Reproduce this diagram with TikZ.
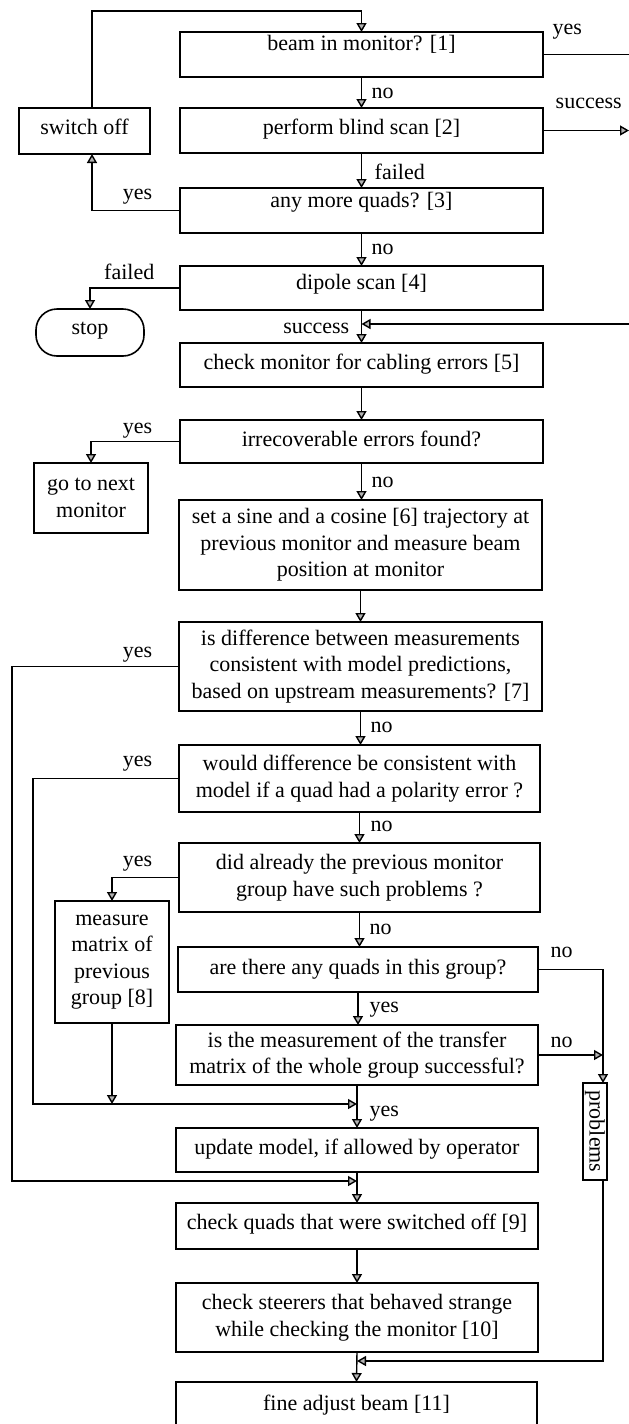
\documentclass[tikz,border=0pt]{standalone}
\usepackage{fontspec}
\setmainfont{Liberation Serif}
\usetikzlibrary{arrows.meta,calc}
\begin{document}
\begin{tikzpicture}[x=1pt,y=-1pt,
  font=\fontsize{22}{26.5}\selectfont,
  line width=1.4pt,
  box/.style={draw, line width=1.6pt, anchor=north, inner xsep=1pt, inner ysep=0pt, outer sep=0pt, align=center, minimum height=0pt},
  arr/.style={-{Triangle[length=9pt,width=10pt,fill=gray!60]}},
  lab/.style={inner sep=0pt}]
\useasboundingbox (0,0) rectangle (629,1424);
\clip (0,0) rectangle (629,1424);
% main boxes
\node[box, minimum width=363pt, text height=18pt, text depth=27pt] (B1) at (361.5,32) {beam in monitor? [1]};
\node[box, minimum width=363pt, text height=26pt, text depth=19pt] (B2) at (361.5,108) {perform blind scan [2]};
\node[box, minimum width=363pt, text height=19pt, text depth=26pt] (B3) at (361.5,188) {any more quads? [3]};
\node[box, minimum width=363pt, text height=23pt, text depth=21pt] (B4) at (361.5,266) {dipole scan [4]};
\node[box, minimum width=363pt, text height=26pt, text depth=18pt] (B5) at (361.5,343) {check monitor for cabling errors [5]};
\node[box, minimum width=363pt, text height=26pt, text depth=17pt] (B6) at (361.5,420) {irrecoverable errors found?};
\node[box, minimum width=363pt, minimum height=90pt] (B7) at (360.5,500) {set a sine and a cosine [6] trajectory at\\previous monitor and measure beam\\position at monitor};
\node[box, minimum width=363pt, minimum height=89pt] (B8) at (360.5,622) {is difference between measurements\\consistent with model predictions,\\based on upstream measurements? [7]};
\node[box, minimum width=361pt, minimum height=67pt] (B9) at (359.5,745) {would difference be consistent with\\model if a quad had a polarity error ?};
\node[box, minimum width=361pt, minimum height=69pt] (B10) at (359.5,843) {did already the previous monitor\\group have such problems ?};
\node[box, minimum width=360pt, text height=27pt, text depth=18pt] (B11) at (358,947) {are there any quads in this group?};
\node[box, minimum width=362pt, minimum height=60pt] (B12) at (357,1025) {is the measurement of the transfer\\matrix of the whole group successful?};
\node[box, minimum width=362pt, text height=26pt, text depth=18pt] (B13) at (357,1128) {update model, if allowed by operator};
\node[box, minimum width=362pt, text height=26pt, text depth=20pt] (B14) at (357,1203) {check quads that were switched off [9]};
\node[box, minimum width=362pt, minimum height=69pt] (B15) at (357,1283) {check steerers that behaved strange\\while checking the monitor [10]};
\node[box, minimum width=361pt, text height=28pt, text depth=40pt] (B16) at (356.5,1382) {fine adjust beam [11]};
% side boxes
\node[box, minimum width=131pt, text height=26pt, text depth=20pt] (SO) at (84.5,108) {switch off};
\node[box, minimum width=108pt, text height=25pt, text depth=22pt, rounded corners=21pt] (stop) at (90,309) {stop};
\node[box, minimum width=114pt, minimum height=70pt] (GN) at (91,463) {go to next\\monitor};
\node[box, minimum width=114pt, minimum height=122pt] (MM) at (112,901) {measure\\matrix of\\previous\\group [8]};
\node[draw, line width=1.6pt, rotate=-90, inner sep=0pt, outer sep=0pt, minimum width=97pt, minimum height=24pt] (problems) at (595,1131.5) {problems};
% helper coordinates
\coordinate (j0) at (361.5,324);
\coordinate (j1) at (357,1104);
\coordinate (j2) at (357,1181);
\coordinate (j3) at (357,1361);
\coordinate (xa) at (92,0);
\coordinate (xb) at (12,0);
\coordinate (xc) at (33,0);
\coordinate (px) at (603,0);
\coordinate (re) at (629,0);
\coordinate (tp) at (0,11);
% main vertical flow
\draw[arr] (B1.south) -- (B2.north);
\draw[arr] (B2.south) -- (B3.north);
\draw[arr] (B3.south) -- (B4.north);
\draw[arr] (B4.south) -- (B5.north);
\draw[arr] (B5.south) -- (B6.north);
\draw[arr] (B6.south) -- (B6.south |- B7.north);
\draw[arr] (B7.south) -- (B8.north);
\draw[arr] (B8.south) -- (B8.south |- B9.north);
\draw[arr] (B9.south) -- (B10.north);
\draw[arr] (B10.south) -- (B10.south |- B11.north);
\draw[arr] (B11.south) -- (B11.south |- B12.north);
\draw[arr] (B12.south) -- (B13.north);
\draw[arr] (B13.south) -- (B14.north);
\draw[arr] (B14.south) -- (B15.north);
\draw[arr] (B15.south) -- (B16.north);
% branches
\draw[arr] (SO.north -| xa) -- (tp -| xa) -- (tp -| B1.north) -- (B1.north);
\draw (B1.east) -- (B1.east -| re);
\draw[arr] (B2.east) -- (B2.east -| re);
\draw[arr] (B3.west) -- (B3.west -| xa) -- (SO.south -| xa);
\draw[arr] (B4.west) -| (stop.north);
\draw[arr] (j0 -| re) -- (j0);
\draw[arr] (B6.west) -| (GN.north);
\draw[arr] (B8.west) -- (B8.west -| xb) |- (j2);
\draw[arr] (B9.west) -- (B9.west -| xc) |- (j1);
\draw[arr] (B10.west) -| (MM.north);
\draw[arr] (MM.south) -- (MM.south |- j1);
\draw[arr] (B11.east) -- (B11.east -| px) -- (problems.west -| px);
\draw[arr] (B12.east) -- (B12.east -| px);
\draw[arr] (problems.east -| px) -- (j3 -| px) -- (j3);
% labels
\node[lab, anchor=base west] (lyes1) at (552,34) {yes};
\node[lab, anchor=base west] (lno1) at (371,98) {no};
\node[lab, anchor=base west] (lsucc2) at (555,108) {success};
\node[lab, anchor=base west] (lfail2) at (374,179) {failed};
\node[lab, anchor=base east] (lyes3) at (153,199) {yes};
\node[lab, anchor=base west] (lno3) at (371,254) {no};
\node[lab, anchor=base east] (lfail4) at (155,279) {failed};
\node[lab, anchor=base east] (lsucc4) at (350,333) {success};
\node[lab, anchor=base east] (lyes6) at (153,433) {yes};
\node[lab, anchor=base west] (lno6) at (371,487) {no};
\node[lab, anchor=base east] (lyes8) at (153,657) {yes};
\node[lab, anchor=base west] (lno8) at (370,732) {no};
\node[lab, anchor=base east] (lyes9) at (153,766) {yes};
\node[lab, anchor=base west] (lno9) at (370,831) {no};
\node[lab, anchor=base east] (lyes10) at (153,866) {yes};
\node[lab, anchor=base west] (lno10) at (369,934) {no};
\node[lab, anchor=base west] (lno11) at (550,957) {no};
\node[lab, anchor=base west] (lyes11) at (369,1012) {yes};
\node[lab, anchor=base west] (lno12) at (550,1047) {no};
\node[lab, anchor=base west] (lyes12) at (369,1116) {yes};
\end{tikzpicture}
\end{document}
